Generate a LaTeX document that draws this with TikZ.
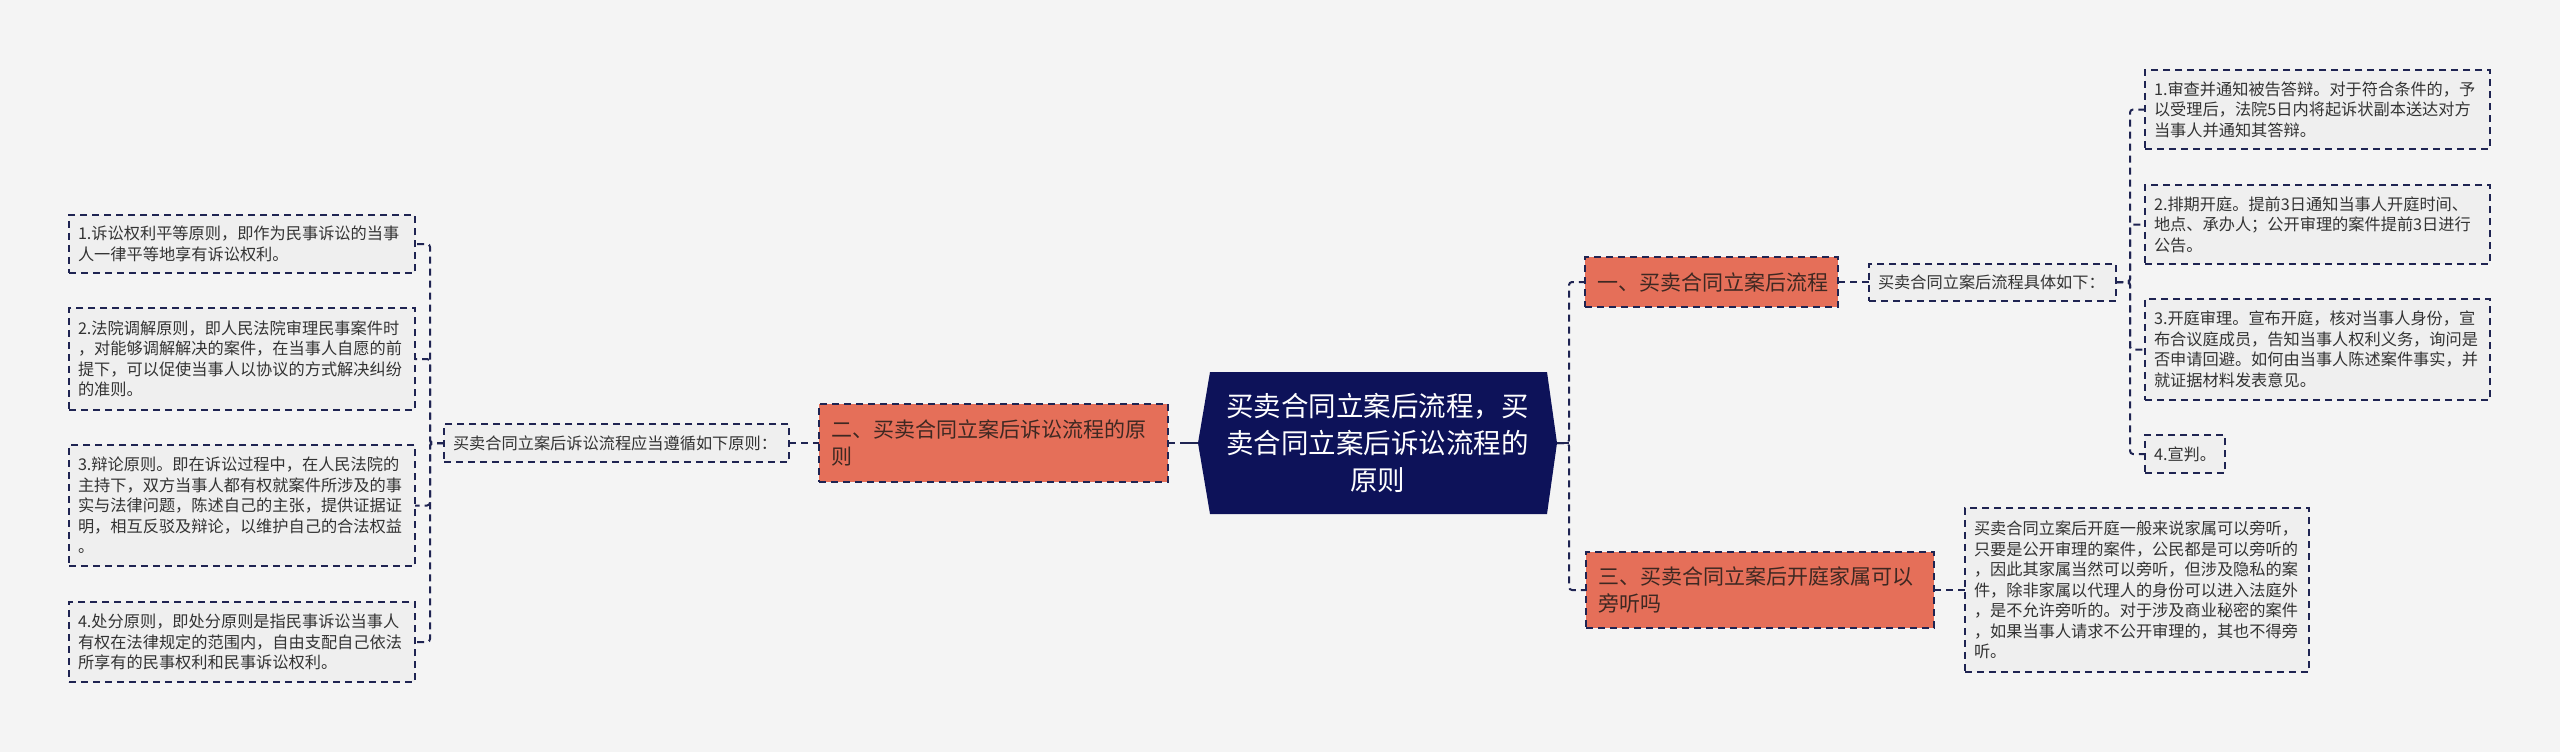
\documentclass[tikz,border=0pt]{standalone}
\usepackage{fontspec}
\setmainfont{Noto Sans CJK SC}
\usepackage{tikz}
\pgfdeclarelayer{background}
\pgfdeclarelayer{main}
\pgfsetlayers{background,main}
\usetikzlibrary{positioning}
\definecolor{navy}{HTML}{1F2452}
\definecolor{hubnavy}{HTML}{0D1259}
\definecolor{coral}{HTML}{E56F59}
\definecolor{paper}{HTML}{F4F4F4}
\definecolor{leafgrey}{HTML}{EFEFEF}
\definecolor{ink}{HTML}{333333}
\definecolor{coralink}{HTML}{3E2822}

\begin{document}
\begin{tikzpicture}[
    x=1pt, y=-1pt,
    every node/.style={inner sep=0pt, outer sep=0pt},
    leaf/.style={
        rectangle,
        draw=navy,
        fill=leafgrey,
        line width=2pt,
        dash pattern=on 7pt off 5pt,
        text=ink,
        font=\fontsize{16.2}{20.5}\selectfont,
        align=left,
        anchor=north west,
        inner xsep=9pt,
        text width=328pt
    },
    branch/.style={
        rectangle,
        draw=navy,
        fill=coral,
        line width=2pt,
        dash pattern=on 7pt off 5pt,
        text=coralink,
        font=\fontsize{21}{27}\selectfont,
        align=left,
        anchor=north west,
        inner xsep=12pt,
        text width=325pt
    },
    hub/.style={
        text=white,
        font=\fontsize{27.5}{37}\selectfont,
        align=center,
        text width=330pt,
        minimum width=359pt,
        minimum height=142pt
    },
    link/.style={draw=navy, line width=2pt, dash pattern=on 7pt off 5pt, rounded corners=3pt},
    stub/.style={draw=navy, line width=2.2pt}
]
\useasboundingbox (0,0) rectangle (2560,752);

\node[hub, anchor=north west] (hub) at (1198,372) {买卖合同立案后流程，买\\卖合同立案后诉讼流程的\\原则};

\node[branch, minimum height=78pt, left=30pt of hub] (b2) {二、买卖合同立案后诉讼流程的原\\则};
\node[leaf, text width=327pt, minimum height=38pt, left=30pt of b2] (sl) {买卖合同立案后诉讼流程应当遵循如下原则：};

\node[leaf, minimum height=58pt] (l1) at (69,215) {1.诉讼权利平等原则，即作为民事诉讼的当事\\人一律平等地享有诉讼权利。};
\node[leaf, minimum height=102pt] (l2) at (69,308) {2.法院调解原则，即人民法院审理民事案件时\\，对能够调解解决的案件，在当事人自愿的前\\提下，可以促使当事人以协议的方式解决纠纷\\的准则。};
\node[leaf, minimum height=121pt] (l3) at (69,445) {3.辩论原则。即在诉讼过程中，在人民法院的\\主持下，双方当事人都有权就案件所涉及的事\\实与法律问题，陈述自己的主张，提供证据证\\明，相互反驳及辩论，以维护自己的合法权益\\。};
\node[leaf, minimum height=80pt] (l4) at (69,602) {4.处分原则，即处分原则是指民事诉讼当事人\\有权在法律规定的范围内，自由支配自己依法\\所享有的民事权利和民事诉讼权利。};

\node[branch, text width=229pt, minimum height=50pt] (b1) at (1585,257) {一、买卖合同立案后流程};
\node[leaf, text width=229pt, minimum height=37pt, right=31pt of b1] (d1) {买卖合同立案后流程具体如下：};

\node[leaf, text width=327pt, minimum height=79pt] (r1) at (2145,70) {1.审查并通知被告答辩。对于符合条件的，予\\以受理后，法院5日内将起诉状副本送达对方\\当事人并通知其答辩。};
\node[leaf, text width=327pt, minimum height=79pt] (r2) at (2145,185) {2.排期开庭。提前3日通知当事人开庭时间、\\地点、承办人；公开审理的案件提前3日进行\\公告。};
\node[leaf, text width=327pt, minimum height=101pt] (r3) at (2145,299) {3.开庭审理。宣布开庭，核对当事人身份，宣\\布合议庭成员，告知当事人权利义务，询问是\\否申请回避。如何由当事人陈述案件事实，并\\就证据材料发表意见。};
\node[leaf, text width=62pt, minimum height=38pt] (r4) at (2145,435) {4.宣判。};

\node[branch, text width=324pt, minimum height=76pt] (b3) at (1586,552) {三、买卖合同立案后开庭家属可以\\旁听吗};
\node[leaf, text width=326pt, minimum height=164pt, right=31pt of b3] (t) {买卖合同立案后开庭一般来说家属可以旁听，\\只要是公开审理的案件，公民都是可以旁听的\\，因此其家属当然可以旁听，但涉及隐私的案\\件，除非家属以代理人的身份可以进入法庭外\\，是不允许旁听的。对于涉及商业秘密的案件\\，如果当事人请求不公开审理的，其也不得旁\\听。};

\begin{pgfonlayer}{background}
\fill[paper] (0,0) rectangle (2560,752);
\fill[hubnavy] (hub.west) -- ([xshift=12pt]hub.north west) -- ([xshift=-10pt]hub.north east) -- (hub.east)
    -- ([xshift=-10pt]hub.south east) -- ([xshift=12pt]hub.south west) -- cycle;
\end{pgfonlayer}

\draw[link] (b2.east) -- (hub.west);
\draw[link] (sl.east) -- (b2.west);
\foreach \leafname in {l1,l2,l3,l4}
    \draw[link] (sl.west) -- ++(-14,0) |- (\leafname.east);

\draw[link] (hub.east) -- ++(12,0) |- (b1.west);
\draw[link] (hub.east) -- ++(12,0) |- (b3.west);
\draw[link] (b1.east) -- (d1.west);
\foreach \leafname in {r1,r2,r3,r4}
    \draw[link] (d1.east) -- ++(14,0) |- (\leafname.west);
\draw[link] (b3.east) -- (t.west);

\draw[stub] (hub.west) -- ++(-18,0);
\draw[stub] (hub.east) -- ++(12,0);

\end{tikzpicture}
\end{document}
